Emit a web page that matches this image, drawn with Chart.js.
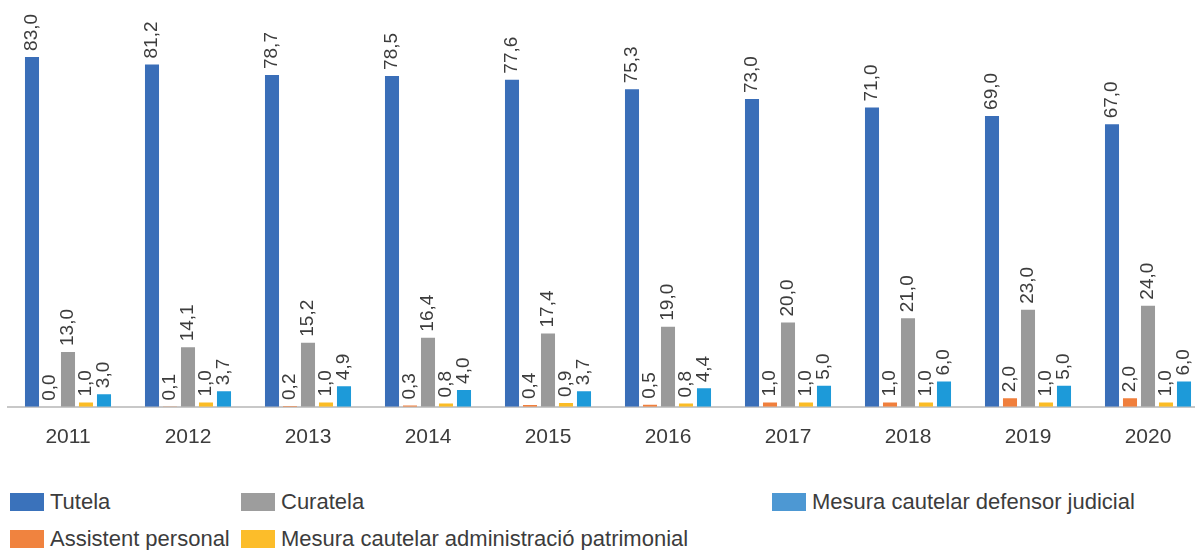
<!DOCTYPE html>
<html>
<head>
<meta charset="utf-8">
<script src="https://cdn.jsdelivr.net/npm/chart.js@4"></script>
<style>
  body { margin: 0; background: #fff; overflow: hidden; width: 1195px; height: 550px; }
  #wrap { position: absolute; left: 0; top: 0; width: 1210px; height: 460px; }
  .leg { position: absolute; font-family: "Liberation Sans", Arial, sans-serif; font-size: 22px; color: #3c3c3c; white-space: nowrap; line-height: 18px; }
  .leg span.box { display: inline-block; width: 34px; height: 18px; vertical-align: top; margin-right: 6px; }
</style>
</head>
<body>
<div id="wrap"><canvas id="bars"></canvas></div>
<div id="legend"></div>
<script>
const years = ['2011', '2012', '2013', '2014', '2015', '2016', '2017', '2018', '2019', '2020'];
const tutela = [83.0, 81.2, 78.7, 78.5, 77.6, 75.3, 73.0, 71.0, 69.0, 67.0];
const assistent = [0.0, 0.1, 0.2, 0.3, 0.4, 0.5, 1.0, 1.0, 2.0, 2.0];
const curatela = [13.0, 14.1, 15.2, 16.4, 17.4, 19.0, 20.0, 21.0, 23.0, 24.0];
const mesuraPatrimonial = [1.0, 1.0, 1.0, 0.8, 0.9, 0.8, 1.0, 1.0, 1.0, 1.0];
const mesuraDefensor = [3.0, 3.7, 4.9, 4.0, 3.7, 4.4, 5.0, 6.0, 5.0, 6.0];

const textColor = '#3c3c3c';

// rotated value labels above every bar
const valueLabels = {
  id: 'valueLabels',
  afterDatasetsDraw(chart) {
    const ctx = chart.ctx;
    ctx.save();
    ctx.font = '19px "Liberation Sans", Arial, sans-serif';
    ctx.fillStyle = textColor;
    ctx.textAlign = 'left';
    ctx.textBaseline = 'middle';
    chart.data.datasets.forEach((ds, i) => {
      chart.getDatasetMeta(i).data.forEach((bar, j) => {
        ctx.save();
        ctx.translate(bar.x, bar.y - 6);
        ctx.rotate(-Math.PI / 2);
        ctx.fillText(ds.data[j].toFixed(1).replace('.', ','), 0, 0);
        ctx.restore();
      });
    });
    ctx.restore();
  }
};

const ctx = document.getElementById('bars').getContext('2d');
const chart = new Chart(ctx, {
  type: 'bar',
  data: {
    labels: years,
    datasets: [
      { label: 'Tutela', data: tutela, backgroundColor: '#3a6eb8', legendColor: '#3a72bb' },
      { label: 'Assistent personal', data: assistent, backgroundColor: '#f07f3c', legendColor: '#f0833f' },
      { label: 'Curatela', data: curatela, backgroundColor: '#9a9a9a', legendColor: '#9d9d9d' },
      { label: 'Mesura cautelar administració patrimonial', data: mesuraPatrimonial, backgroundColor: '#fbbc25', legendColor: '#fcbd2a' },
      { label: 'Mesura cautelar defensor judicial', data: mesuraDefensor, backgroundColor: '#1d9ad9', legendColor: '#4d98d3' }
    ]
  },
  options: {
    responsive: true,
    maintainAspectRatio: false,
    animation: false,
    categoryPercentage: 0.75,
    barPercentage: 0.78,
    layout: { padding: { left: 8, right: 2, top: 0, bottom: 0 } },
    scales: {
      x: {
        grid: { display: false },
        border: { color: '#c8c8c8', width: 2 },
        ticks: { color: textColor, padding: 10, font: { family: '"Liberation Sans", Arial, sans-serif', size: 21 } }
      },
      y: {
        display: false,
        min: 0,
        max: 96.5
      }
    },
    plugins: {
      legend: { display: false },
      tooltip: { enabled: false }
    }
  },
  plugins: [valueLabels]
});

// legend laid out in columns like the original
const legendSpots = [[10, 493], [10, 530], [241, 493], [241, 530], [772, 493]];
const legend = document.getElementById('legend');
chart.data.datasets.forEach((ds, i) => {
  const item = document.createElement('div');
  item.className = 'leg';
  item.style.left = legendSpots[i][0] + 'px';
  item.style.top = legendSpots[i][1] + 'px';
  item.innerHTML = '<span class="box" style="background:' + ds.legendColor + '"></span>' + ds.label;
  legend.appendChild(item);
});
</script>
</body>
</html>
